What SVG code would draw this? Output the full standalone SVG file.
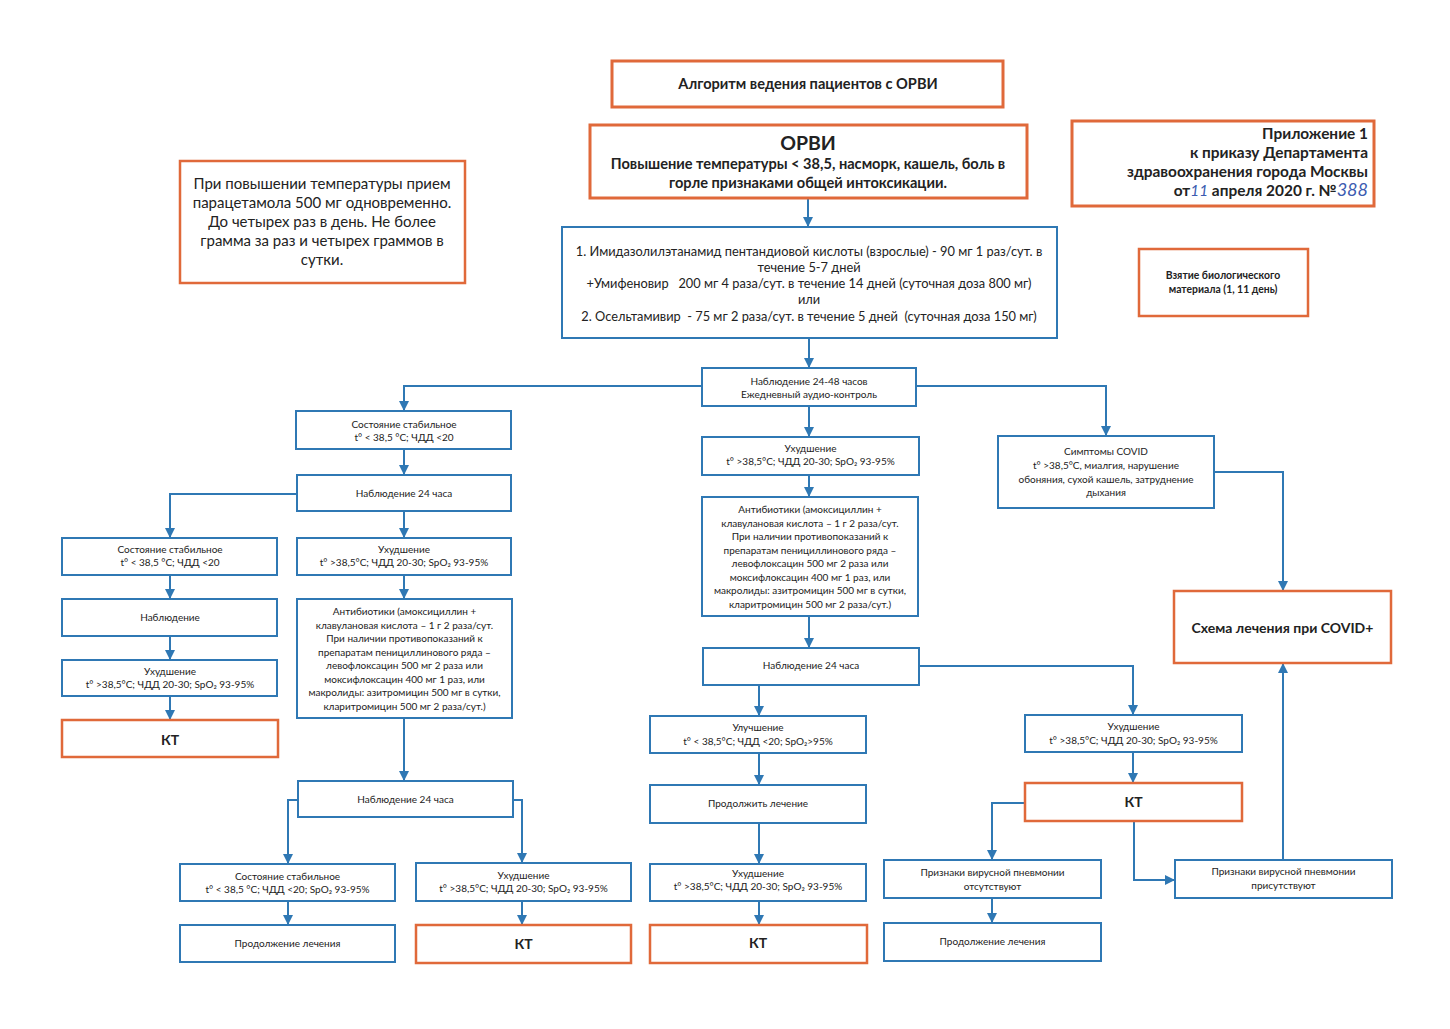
<svg xmlns="http://www.w3.org/2000/svg" width="1450" height="1029" viewBox="0 0 1450 1029">
<defs>
<style>
.b{fill:#fff;stroke:#2f78b4;stroke-width:2}
.o{fill:#fff;stroke:#e0693a;stroke-width:3}
.o2{fill:#fff;stroke:#e0693a;stroke-width:2.5}
text{font-family:Lato,"Open Sans","Liberation Sans",sans-serif;fill:#222;text-anchor:middle}
.s{font-size:10px}
.m{font-size:12.8px}
.n{font-size:15px}
.hb{font-size:14.6px;font-weight:bold}
.ap{font-size:15.4px;font-weight:bold;text-anchor:end}
.kt{font-size:14px;font-weight:bold}
.sb{font-size:10.4px;font-weight:bold}
.c{fill:none;stroke:#2f78b4;stroke-width:2;marker-end:url(#ar)}
</style>
<marker id="ar" viewBox="0 0 10 10" refX="9" refY="5" markerWidth="5" markerHeight="5" orient="auto" markerUnits="strokeWidth">
<path d="M0,0 L10,5 L0,10 Z" fill="#2f78b4"/>
</marker>
</defs>
<rect width="1450" height="1029" fill="#fff"/>

<g id="connectors">
<path class="c" d="M808,198 V226"/>
<path class="c" d="M809,338 V367"/>
<path class="c" d="M702,386 H404 V410"/>
<path class="c" d="M916,386 H1106 V435"/>
<path class="c" d="M404,449 V474"/>
<path class="c" d="M297,494 H170 V537"/>
<path class="c" d="M404,511 V537"/>
<path class="c" d="M170,575 V598"/>
<path class="c" d="M170,636 V659"/>
<path class="c" d="M170,696 V719"/>
<path class="c" d="M404,575 V598"/>
<path class="c" d="M404,718 V780"/>
<path class="c" d="M298,800 H288 V863"/>
<path class="c" d="M513,800 H522 V862"/>
<path class="c" d="M288,901 V924"/>
<path class="c" d="M522,901 V924"/>
<path class="c" d="M809,406 V436"/>
<path class="c" d="M809,475 V496"/>
<path class="c" d="M809,616 V647"/>
<path class="c" d="M759,685 V715"/>
<path class="c" d="M919,666 H1133 V714"/>
<path class="c" d="M759,753 V784"/>
<path class="c" d="M759,823 V863"/>
<path class="c" d="M759,901 V924"/>
<path class="c" d="M1133,752 V782"/>
<path class="c" d="M1025,803 H992 V859"/>
<path class="c" d="M992,898 V922"/>
<path class="c" d="M1134,821 V880 H1174"/>
<path class="c" d="M1283,860 V664"/>
<path class="c" d="M1214,472 H1283 V590"/>
</g>

<g id="title">
<rect class="o" x="612" y="61" width="391" height="46"/>
<text class="hb" x="808" y="89">Алгоритм ведения пациентов с ОРВИ</text>
</g>

<g id="orvi">
<rect class="o" x="590" y="125" width="437" height="73"/>
<text x="808" y="150" style="font-size:19.5px;font-weight:bold">ОРВИ</text>
<text class="hb" x="808" y="169">Повышение температуры &lt; 38,5, насморк, кашель, боль в</text>
<text class="hb" x="808" y="188">горле признаками общей интоксикации.</text>
</g>

<g id="appendix">
<rect class="o" x="1072" y="121" width="302" height="85"/>
<text class="ap" x="1368" y="139">Приложение 1</text>
<text class="ap" x="1368" y="158">к приказу Департамента</text>
<text class="ap" x="1368" y="177">здравоохранения города Москвы</text>
<text class="ap" x="1368" y="196">от<tspan style="fill:#3b5bb0;font-style:italic;font-weight:normal">11</tspan> апреля 2020 г. №<tspan style="fill:#3b5bb0;font-style:italic;font-weight:normal;font-size:18px">388</tspan></text>
</g>

<g id="paracetamol">
<rect class="o2" x="180" y="161" width="285" height="122"/>
<text class="n" x="322" y="189">При повышении температуры прием</text>
<text class="n" x="322" y="208">парацетамола 500 мг одновременно.</text>
<text class="n" x="322" y="227">До четырех раз в день. Не более</text>
<text class="n" x="322" y="246">грамма за раз и четырех граммов в</text>
<text class="n" x="322" y="265">сутки.</text>
</g>

<g id="treatment">
<rect class="b" x="562" y="227" width="495" height="111"/>
<text class="m" x="809" y="256">1. Имидазолилэтанамид пентандиовой кислоты (взрослые) - 90 мг 1 раз/сут. в</text>
<text class="m" x="809" y="272">течение 5-7 дней</text>
<text class="m" x="809" y="288" xml:space="preserve">+Умифеновир   200 мг 4 раза/сут. в течение 14 дней (суточная доза 800 мг)</text>
<text class="m" x="809" y="304">или</text>
<text class="m" x="809" y="321" xml:space="preserve">2. Осельтамивир  - 75 мг 2 раза/сут. в течение 5 дней  (суточная доза 150 мг)</text>
</g>

<g id="biomaterial">
<rect class="o2" x="1139" y="249" width="169" height="67"/>
<text class="sb" x="1223" y="279">Взятие биологического</text>
<text class="sb" x="1223" y="293">материала (1, 11 день)</text>
</g>

<g id="obs2448">
<rect class="b" x="702" y="368" width="214" height="38"/>
<text class="s" x="809" y="385">Наблюдение 24-48 часов</text>
<text class="s" x="809" y="398">Ежедневный аудио-контроль</text>
</g>

<g id="stable1">
<rect class="b" x="296" y="411" width="215" height="38"/>
<text class="s" x="404" y="428">Состояние стабильное</text>
<text class="s" x="404" y="441">t° &lt; 38,5 °C; ЧДД &lt;20</text>
</g>

<g id="obs24a">
<rect class="b" x="297" y="475" width="214" height="36"/>
<text class="s" x="404" y="497">Наблюдение 24 часа</text>
</g>

<g id="stable2">
<rect class="b" x="62" y="538" width="215" height="37"/>
<text class="s" x="170" y="553">Состояние стабильное</text>
<text class="s" x="170" y="566">t° &lt; 38,5 °C; ЧДД &lt;20</text>
</g>

<g id="obs">
<rect class="b" x="62" y="599" width="215" height="37"/>
<text class="s" x="170" y="621">Наблюдение</text>
</g>

<g id="worse1">
<rect class="b" x="62" y="660" width="215" height="36"/>
<text class="s" x="170" y="675">Ухудшение</text>
<text class="s" x="170" y="688">t° &gt;38,5°C; ЧДД 20-30; SpO₂ 93-95%</text>
</g>

<g id="ct1">
<rect class="o2" x="62" y="720" width="216" height="37"/>
<text class="kt" x="170" y="745">КТ</text>
</g>

<g id="worse2">
<rect class="b" x="297" y="538" width="214" height="37"/>
<text class="s" x="404" y="553">Ухудшение</text>
<text class="s" x="404" y="566">t° &gt;38,5°C; ЧДД 20-30; SpO₂ 93-95%</text>
</g>

<g id="antibiotics1">
<rect class="b" x="297" y="599" width="215" height="119"/>
<text class="s" x="404.5" y="615">Антибиотики (амоксициллин +</text>
<text class="s" x="404.5" y="628.5">клавулановая кислота – 1 г 2 раза/сут.</text>
<text class="s" x="404.5" y="642">При наличии противопоказаний к</text>
<text class="s" x="404.5" y="655.5">препаратам пенициллинового ряда –</text>
<text class="s" x="404.5" y="669">левофлоксацин 500 мг 2 раза или</text>
<text class="s" x="404.5" y="682.5">моксифлоксацин 400 мг 1 раз, или</text>
<text class="s" x="404.5" y="696">макролиды: азитромицин 500 мг в сутки,</text>
<text class="s" x="404.5" y="709.5">кларитромицин 500 мг 2 раза/сут.)</text>
</g>

<g id="obs24b">
<rect class="b" x="298" y="781" width="215" height="36"/>
<text class="s" x="405.5" y="803">Наблюдение 24 часа</text>
</g>

<g id="stable3">
<rect class="b" x="180" y="864" width="215" height="37"/>
<text class="s" x="287.5" y="880">Состояние стабильное</text>
<text class="s" x="287.5" y="893">t° &lt; 38,5 °C; ЧДД &lt;20; SpO₂ 93-95%</text>
</g>

<g id="continue1">
<rect class="b" x="180" y="925" width="215" height="37"/>
<text class="s" x="287.5" y="947">Продолжение лечения</text>
</g>

<g id="worse3">
<rect class="b" x="416" y="863" width="215" height="38"/>
<text class="s" x="523.5" y="879">Ухудшение</text>
<text class="s" x="523.5" y="892">t° &gt;38,5°C; ЧДД 20-30; SpO₂ 93-95%</text>
</g>

<g id="ct2">
<rect class="o2" x="416" y="925" width="215" height="38"/>
<text class="kt" x="523.5" y="949">КТ</text>
</g>

<g id="worse4">
<rect class="b" x="702" y="437" width="217" height="38"/>
<text class="s" x="810.5" y="452">Ухудшение</text>
<text class="s" x="810.5" y="465">t° &gt;38,5°C; ЧДД 20-30; SpO₂ 93-95%</text>
</g>

<g id="antibiotics2">
<rect class="b" x="702" y="497" width="216" height="119"/>
<text class="s" x="810" y="513">Антибиотики (амоксициллин +</text>
<text class="s" x="810" y="526.5">клавулановая кислота – 1 г 2 раза/сут.</text>
<text class="s" x="810" y="540">При наличии противопоказаний к</text>
<text class="s" x="810" y="553.5">препаратам пенициллинового ряда –</text>
<text class="s" x="810" y="567">левофлоксацин 500 мг 2 раза или</text>
<text class="s" x="810" y="580.5">моксифлоксацин 400 мг 1 раз, или</text>
<text class="s" x="810" y="594">макролиды: азитромицин 500 мг в сутки,</text>
<text class="s" x="810" y="607.5">кларитромицин 500 мг 2 раза/сут.)</text>
</g>

<g id="obs24c">
<rect class="b" x="703" y="648" width="216" height="37"/>
<text class="s" x="811" y="669">Наблюдение 24 часа</text>
</g>

<g id="better">
<rect class="b" x="650" y="716" width="216" height="37"/>
<text class="s" x="758" y="731">Улучшение</text>
<text class="s" x="758" y="745">t° &lt; 38,5°C; ЧДД &lt;20; SpO₂&gt;95%</text>
</g>

<g id="continue2">
<rect class="b" x="650" y="785" width="216" height="38"/>
<text class="s" x="758" y="807">Продолжить лечение</text>
</g>

<g id="worse5">
<rect class="b" x="650" y="864" width="216" height="37"/>
<text class="s" x="758" y="877">Ухудшение</text>
<text class="s" x="758" y="890">t° &gt;38,5°C; ЧДД 20-30; SpO₂ 93-95%</text>
</g>

<g id="ct3">
<rect class="o2" x="650" y="925" width="217" height="38"/>
<text class="kt" x="758" y="948">КТ</text>
</g>

<g id="covidsymptoms">
<rect class="b" x="998" y="436" width="216" height="72"/>
<text class="s" x="1106" y="455">Симптомы COVID</text>
<text class="s" x="1106" y="469">t° &gt;38,5°C, миалгия, нарушение</text>
<text class="s" x="1106" y="483">обоняния, сухой кашель, затруднение</text>
<text class="s" x="1106" y="496">дыхания</text>
</g>

<g id="covidscheme">
<rect class="o2" x="1174" y="591" width="217" height="72"/>
<text class="kt" x="1282.5" y="633">Схема лечения при COVID+</text>
</g>

<g id="worse6">
<rect class="b" x="1025" y="715" width="217" height="37"/>
<text class="s" x="1133.5" y="730">Ухудшение</text>
<text class="s" x="1133.5" y="744">t° &gt;38,5°C; ЧДД 20-30; SpO₂ 93-95%</text>
</g>

<g id="ct4">
<rect class="o2" x="1025" y="783" width="217" height="38"/>
<text class="kt" x="1133.5" y="807">КТ</text>
</g>

<g id="pneumoniaabsent">
<rect class="b" x="884" y="860" width="217" height="38"/>
<text class="s" x="992.5" y="876">Признаки вирусной пневмонии</text>
<text class="s" x="992.5" y="890">отсутствуют</text>
</g>

<g id="continue3">
<rect class="b" x="884" y="923" width="217" height="38"/>
<text class="s" x="992.5" y="945">Продолжение лечения</text>
</g>

<g id="pneumoniapresent">
<rect class="b" x="1175" y="860" width="217" height="38"/>
<text class="s" x="1283.5" y="875">Признаки вирусной пневмонии</text>
<text class="s" x="1283.5" y="889">присутствуют</text>
</g>
</svg>
